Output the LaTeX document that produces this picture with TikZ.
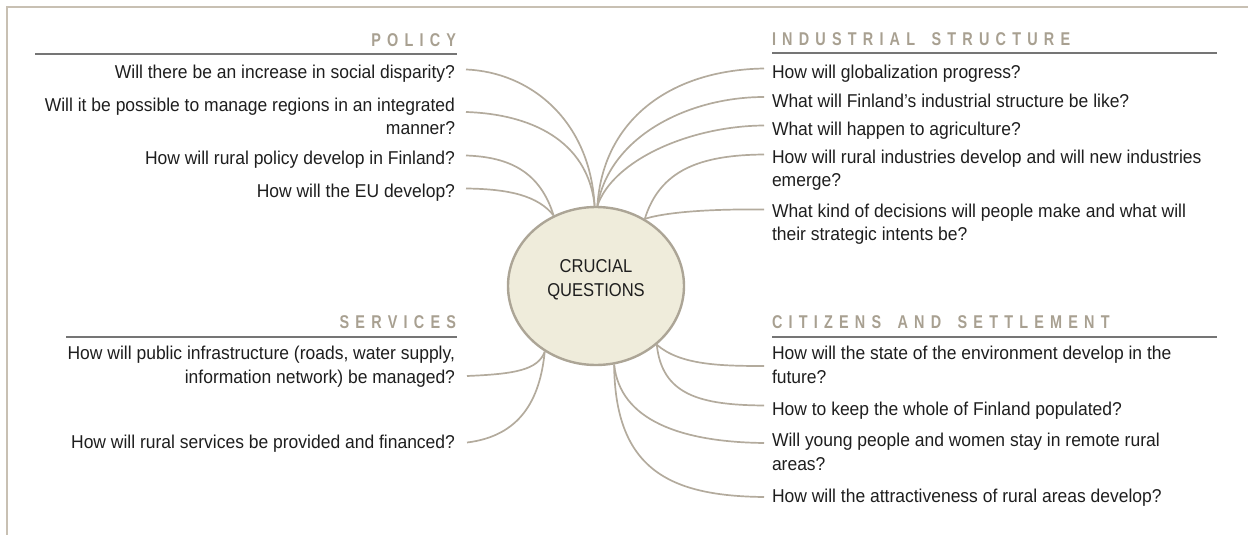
\documentclass[tikz,border=0pt]{standalone}
\usepackage{fontspec}
\setmainfont{Liberation Sans}[FakeStretch=0.94]
\newfontfamily\circfont{Liberation Sans}[FakeStretch=0.89]
\newfontfamily\hdrfont{Liberation Sans}[FakeStretch=0.78]
\usetikzlibrary{shapes.geometric,calc}
\definecolor{framec}{HTML}{C8C0B3}
\definecolor{hdrc}{HTML}{A8A091}
\definecolor{rulec}{HTML}{757575}
\definecolor{connc}{HTML}{B3AB9D}
\definecolor{circfill}{HTML}{EFECDB}
\definecolor{circline}{HTML}{ACA596}
\definecolor{txtc}{HTML}{1E1E1E}
\newlength\hdrgap \setlength\hdrgap{6.2pt}
\makeatletter
\newcommand\spw[1]{\@tfor\sp@ch:=#1\do{\sp@ch\kern\hdrgap}\unkern}
\makeatother
\newcommand\wgap{\kern16.4pt}
\tikzset{
  qtext/.style={inner sep=0pt, outer sep=0pt, text=txtc, font=\fontsize{18.6}{23}\selectfont},
  hdr/.style={inner sep=0pt, outer sep=0pt, text=hdrc, font=\hdrfont\bfseries\fontsize{18.5}{20}\selectfont},
  conn/.style={draw=connc, line width=1.7pt},
  hrule/.style={draw=rulec, line width=1.1pt},
  framel/.style={draw=framec, line width=2.2pt},
  cruxstyle/.style={ellipse, draw=circline, fill=circfill, line width=2.4pt,
    minimum width=176pt, minimum height=158pt, inner sep=0pt},
  cruxtext/.style={inner sep=0pt, align=center, text=txtc, font=\circfont\fontsize{18.6}{24}\selectfont}
}
\begin{document}
\begin{tikzpicture}[x=1pt,y=-1pt]
\useasboundingbox (0,0) rectangle (1248,535);
% frame
\draw[framel] (7,535) -- (7,7) -- (1248,7);

% central ellipse
\node[cruxstyle] (crux) at (596,286) {};
\node[cruxtext] (cq) at (596,280) {CRUCIAL\\QUESTIONS};

% POLICY
\node[hdr, anchor=base east] (hpol) at (456,46.5) {\spw{POLICY}};
\draw[hrule] (35,54) -- (457,54);
\node[qtext, anchor=base east] (p1) at (455,78.5) {Will there be an increase in social disparity?};
\node[qtext, anchor=base east] (p2a) at (455,111.5) {Will it be possible to manage regions in an integrated};
\node[qtext, anchor=base east] (p2b) at (455,134.5) {manner?};
\node[qtext, anchor=base east] (p3) at (455,164.5) {How will rural policy develop in Finland?};
\node[qtext, anchor=base east] (p4) at (455,197.5) {How will the EU develop?};

% SERVICES
\node[hdr, anchor=base east] (hser) at (456,328.5) {\spw{SERVICES}};
\draw[hrule] (66,337) -- (457,337);
\node[qtext, anchor=base east] (s1a) at (455,359.5) {How will public infrastructure (roads, water supply,};
\node[qtext, anchor=base east] (s1b) at (455,383) {information network) be managed?};
\node[qtext, anchor=base east] (s2) at (455,448.5) {How will rural services be provided and financed?};

% INDUSTRIAL STRUCTURE
\node[hdr, anchor=base west] (hind) at (772,46) {\spw{INDUSTRIAL}\wgap\spw{STRUCTURE}};
\draw[hrule] (772,53) -- (1217,53);
\node[qtext, anchor=base west] (i1) at (772,78.5) {How will globalization progress?};
\node[qtext, anchor=base west] (i2) at (772,107) {What will Finland’s industrial structure be like?};
\node[qtext, anchor=base west] (i3) at (772,135.5) {What will happen to agriculture?};
\node[qtext, anchor=base west] (i4a) at (772,163.5) {How will rural industries develop and will new industries};
\node[qtext, anchor=base west] (i4b) at (772,186.5) {emerge?};
\node[qtext, anchor=base west] (i5a) at (772,217.5) {What kind of decisions will people make and what will};
\node[qtext, anchor=base west] (i5b) at (772,240.5) {their strategic intents be?};

% CITIZENS AND SETTLEMENT
\node[hdr, anchor=base west] (hcit) at (772,328) {\spw{CITIZENS}\wgap\spw{AND}\wgap\spw{SETTLEMENT}};
\draw[hrule] (772,337) -- (1217,337);
\node[qtext, anchor=base west] (c1a) at (772,359.5) {How will the state of the environment develop in the};
\node[qtext, anchor=base west] (c1b) at (772,383) {future?};
\node[qtext, anchor=base west] (c2) at (772,415.5) {How to keep the whole of Finland populated?};
\node[qtext, anchor=base west] (c3a) at (772,446.5) {Will young people and women stay in remote rural};
\node[qtext, anchor=base west] (c3b) at (772,470) {areas?};
\node[qtext, anchor=base west] (c4) at (772,502.5) {How will the attractiveness of rural areas develop?};

% connectors: policy
\draw[conn] ($(p1.base east)+(11,-9)$) .. controls (530,72) and (590,120) .. (crux.91);
\draw[conn] ($(p2a.base east)+(11,0.5)$) .. controls (530,114) and (588,140) .. (crux.91);
\draw[conn] ($(p3.base east)+(11,-9)$) .. controls (510,157) and (540,172) .. (crux.121);
\draw[conn] ($(p4.base east)+(11,-9)$) .. controls (510,189) and (538,196) .. (crux.121);
% services
\draw[conn] ($(s1b.base east)+(12,-7)$) .. controls (515,374) and (538,370) .. (crux.232);
\draw[conn] ($(s2.base east)+(12,-6)$) .. controls (520,436) and (540,400) .. (crux.232);
% industrial
\draw[conn] (crux.89) .. controls (603,120) and (670,70) .. ($(i1.base west)+(-8,-10)$);
\draw[conn] (crux.89) .. controls (610,135) and (690,97) .. ($(i2.base west)+(-8,-10)$);
\draw[conn] (crux.89) .. controls (613,160) and (690,126) .. ($(i3.base west)+(-8,-10)$);
\draw[conn] (crux.54) .. controls (660,170) and (700,155) .. ($(i4a.base west)+(-8,-9)$);
\draw[conn] (crux.54) .. controls (670,211) and (720,209) .. ($(i5a.base west)+(-8,-8)$);
% citizens
\draw[conn] (crux.316) .. controls (680,365) and (720,366) .. ($(c1a.base west)+(-8,6.5)$);
\draw[conn] (crux.316) .. controls (662,395) and (700,405) .. ($(c2.base west)+(-8,-10)$);
\draw[conn] (crux.283) .. controls (620,420) and (680,442) .. ($(c3a.base west)+(-8,-3.5)$);
\draw[conn] (crux.283) .. controls (615,470) and (670,496) .. ($(c4.base west)+(-8,-5.5)$);
\end{tikzpicture}
\end{document}
